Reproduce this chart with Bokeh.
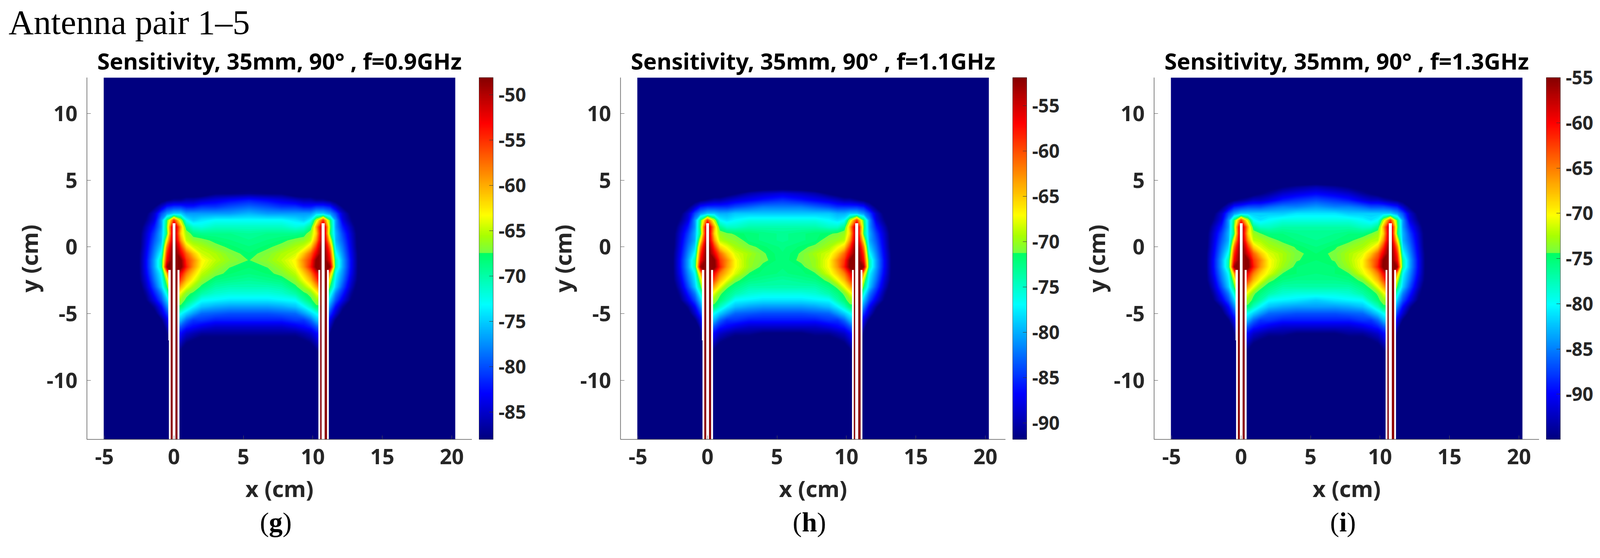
import numpy as np
from bokeh.core.properties import value
from bokeh.embed import file_html
from bokeh.resources import INLINE
from bokeh.layouts import column, row
from bokeh.models import FixedTicker, LinearColorMapper, Range1d
from bokeh.plotting import figure

# ---- data ----
TITLES = ["Sensitivity, 35mm, 90\u00b0 , f=0.9GHz", "Sensitivity, 35mm, 90\u00b0 , f=1.1GHz", "Sensitivity, 35mm, 90\u00b0 , f=1.3GHz"]
PANEL_TAGS = ["g", "h", "i"]
HEADING = "Antenna pair 1\u20135"
X_TICKS = [-5, 0, 5, 10, 15, 20]
Y_TICKS = [-10, -5, 0, 5, 10]
X_RANGE = [-6.26, 21.46]
Y_RANGE = [-14.42, 12.69]
IMAGE_X = [-5.05, 20.25]
CB_LOW = [-88.0, -91.8, -95.0]
CB_HIGH = [-48.1, -51.9, -55.0]
CB_TICKS = [
    [-85, -80, -75, -70, -65, -60, -55, -50],
    [-90, -85, -80, -75, -70, -65, -60, -55],
    [-90, -85, -80, -75, -70, -65, -60, -55],
]
# antenna stripes (cm)
WHITE_LEFT = [-0.40, -0.36, 0.26, -0.09, 10.40, 11.02, 10.63]
WHITE_RIGHT = [-0.23, -0.23, 0.40, 0.11, 10.53, 11.15, 10.85]
WHITE_TOP = [-1.72, -7.0, -1.72, 1.78, -1.72, -1.72, 1.78]
WHITE_BOTTOM = [-7.0, -14.42, -14.42, -14.42, -14.42, -14.42, -14.42]
RED_LEFT = [-0.23, 0.11, 10.53, 10.85]
RED_RIGHT = [-0.09, 0.26, 10.63, 11.02]
RED_TOP = [-1.72, -1.72, -1.72, -1.72]

XS = [-2.6, -2, -1.4, -0.9, -0.5, 0, 0.5, 0.9, 1.4, 2, 3, 4, 5.4, 6.75, 7.75, 8.75, 9.35, 9.85, 10.25, 10.75, 11.25, 11.65, 12.15, 12.75, 13.35]
YS = [5, 4.5, 4, 3.5, 3, 2.5, 2, 1.5, 1, 0.5, 0, -0.5, -1, -1.5, -2, -2.5, -3, -3.5, -4, -4.5, -5, -5.5, -6, -6.5, -7, -7.5, -8]

# attenuation in dB (value shown is the negative of these)
DB_G = [
[90,90,90,90,90,90,90,90,90,90,90,90,90,90,90,90,90,90,90,90,90,90,90,90,90],
[90,90,90,90,90,90,90,90,90,90,90,90,89,90,90,90,90,90,90,90,90,90,90,90,90],
[90,90,90,90,90,90,90,90,90,90,88,88,87.5,88,88,90,90,90,90,90,90,90,90,90,90],
[90,90,90,89,88,87,87,86,86,85,84,83,82,83,84,85,86,86,87,87,88,89,90,90,90],
[90,90,88,85,82,81,81,82,82,81,81,80,79,80,81,81,82,82,81,81,82,85,88,90,90],
[90,88.5,85,80,77,75,75,77,77,77,77,77,76,77,77,77,77,77,75,75,77,80,85,88.5,90],
[90,87.5,84,77,68,55,65,73,75,74,73,73,73,73,73,74,75,73,65,55,68,77,84,87.5,90],
[90,86,82,77,67,47,60,69,71.5,72,71,71,71,71,71,72,71.5,69,60,47,67,77,82,86,90],
[89.5,85,80.5,76,68,47,61.5,66,68.5,69,69,69,69.5,69,69,69,68.5,66,61.5,47,68,76,80.5,85,89.5],
[89.5,84.5,79.5,76,63,47,59,65,66.5,67,68,68.5,69,68.5,68,67,66.5,65,59,47,63,76,79.5,84.5,89.5],
[89.5,84,78.5,74.5,58,46,55,61.5,64.5,65.5,67,67.8,68.5,67.8,67,65.5,64.5,61.5,55,46,58,74.5,78.5,84,89.5],
[89,83.5,77.5,72.5,55,46,52,57,61,64.5,65.5,67,68,67,65.5,64.5,61,57,52,46,55,72.5,77.5,83.5,89],
[89,83,76.5,70,53,46,48,55,58.5,63,65,66.5,67.6,66.5,65,63,58.5,55,48,46,53,70,76.5,83,89],
[89,83,76.5,70,49,46,47.5,54,59,63.5,66,67.5,68,67.5,66,63.5,59,54,47.5,46,49,70,76.5,83,89],
[89,83.5,77.5,73,60,47,53,58,61.5,65,67,68,68.5,68,67,65,61.5,58,53,47,60,73,77.5,83.5,89],
[89,84.5,78.5,74,65,50,56,60.5,63.5,66.5,68.5,69,69.5,69,68.5,66.5,63.5,60.5,56,50,65,74,78.5,84.5,89],
[90,85.5,80,75,68,55,60,63.5,66,68,70,70.5,70.5,70.5,70,68,66,63.5,60,55,68,75,80,85.5,90],
[90,87,82,78,72,60,64,67,68,70,71.5,72,72,72,71.5,70,68,67,64,60,72,78,82,87,90],
[90,88,84,80,75,65,66.5,68,70,73,73.5,74,74,74,73.5,73,70,68,66.5,65,75,80,84,88,90],
[90,90,87,83,78,68,68,71,73.5,75.5,76.5,77,77,77,76.5,75.5,73.5,71,68,68,78,83,87,90,90],
[90,90,89,85,81,71,73,75,77,79,79.5,80,80,80,79.5,79,77,75,73,71,81,85,89,90,90],
[90,90,90,88,84,74,76,79,81,81,82,82,82,82,82,81,81,79,76,74,84,88,90,90,90],
[90,90,90,90,86,77,80,82,83,84,85,85,85,85,85,84,83,82,80,77,86,90,90,90,90],
[90,90,90,90,88,80,83,85,86,87,87,87,87,87,87,87,86,85,83,80,88,90,90,90,90],
[90,90,90,90,90,83,85,87,88,89,89,89,89,89,89,89,88,87,85,83,90,90,90,90,90],
[90,90,90,90,90,85,87,89,90,90,90,90,90,90,90,90,90,89,87,85,90,90,90,90,90],
[90,90,90,90,90,87,89,90,90,90,90,90,90,90,90,90,90,90,89,87,90,90,90,90,90],
]
DB_H = [
[95,95,95,95,95,95,95,95,95,95,95,95,95,95,95,95,95,95,95,95,95,95,95,95,95],
[95,95,95,95,95,95,95,95,95,95,95,94,94,94,95,95,95,95,95,95,95,95,95,95,95],
[95,95,95,95,95,95,94,94,93,92,90,89,88,89,90,92,93,94,94,95,95,95,95,95,95],
[95,95,94,93,92,91,90,90,89,88,87,86,85,86,87,88,89,90,90,91,92,93,94,95,95],
[95,95,92,89,86,85,85,85,85,84,83,82,82,82,83,84,85,85,85,85,86,89,92,95,95],
[94,92.5,89,84,81,79,79,80,80,79,79,79,79,79,79,79,80,80,79,79,81,84,89,92.5,94],
[94,91.5,88,81,72,59,69,77,78,77,76,76,76,76,76,77,78,77,69,59,72,81,88,91.5,94],
[94,90,86,81,71,51,64,73,75,75,74,74,74,74,74,75,75,73,64,51,71,81,86,90,94],
[93.5,89,84.5,80,72,51,65.5,70,71,71.6,72,72.5,73,72.5,72,71.6,71,70,65.5,51,72,80,84.5,89,93.5],
[93.5,88.5,83.5,80,67,51,63,69,70,70.5,72,72.5,73,72.5,72,70.5,70,69,63,51,67,80,83.5,88.5,93.5],
[93.5,88,82.5,78.5,62,50,59,65.5,67.5,69.5,71,71.7,72.5,71.7,71,69.5,67.5,65.5,59,50,62,78.5,82.5,88,93.5],
[93,87.5,81.5,76.5,59,50,56,61,65,68,69.5,71.2,72.3,71.2,69.5,68,65,61,56,50,59,76.5,81.5,87.5,93],
[93,87,80.5,74,57,50,52,59,62.5,67,70,71,72.3,71,70,67,62.5,59,52,50,57,74,80.5,87,93],
[93,87,80.5,74,53,50,51.5,58,63,67,70,71.8,72.3,71.8,70,67,63,58,51.5,50,53,74,80.5,87,93],
[93,87.5,81.5,77,64,51,57,62,65,68,71.5,72,72.5,72,71.5,68,65,62,57,51,64,77,81.5,87.5,93],
[93,88.5,82.5,78,69,54,60,64.5,67.5,70.8,72.5,73,73.5,73,72.5,70.8,67.5,64.5,60,54,69,78,82.5,88.5,93],
[94,89.5,84,79,72,59,64,67.5,71,72.5,74,74,74,74,74,72.5,71,67.5,64,59,72,79,84,89.5,94],
[94,91,86,82,76,64,68,71,72.5,74,75.5,76,76,76,75.5,74,72.5,71,68,64,76,82,86,91,94],
[94,92,88,84,79,69,70.5,72,74,77,77.5,78,78,78,77.5,77,74,72,70.5,69,79,84,88,92,94],
[95,95,91,87,82,72,72,75,77.5,79.5,80.5,81,81,81,80.5,79.5,77.5,75,72,72,82,87,91,95,95],
[95,95,93,89,85,75,77,79,81,83,83.5,84,84,84,83.5,83,81,79,77,75,85,89,93,95,95],
[95,95,95,92,88,78,80,83,85,85,86,86,86,86,86,85,85,83,80,78,88,92,95,95,95],
[95,95,95,95,90,81,84,86,87,88,89,89,89,89,89,88,87,86,84,81,90,95,95,95,95],
[95,95,95,95,92,84,87,89,90,91,91,92,92,92,91,91,90,89,87,84,92,95,95,95,95],
[95,95,95,95,94,87,89,91,92,93,93,94,94,94,93,93,92,91,89,87,94,95,95,95,95],
[95,95,95,95,95,89,91,93,95,95,95,95,95,95,95,95,95,93,91,89,95,95,95,95,95],
[95,95,95,95,95,91,93,95,95,95,95,95,95,95,95,95,95,95,93,91,95,95,95,95,95],
]
DB_I = [
[98,98,98,98,98,98,98,98,98,98,98,98,98,98,98,98,98,98,98,98,98,98,98,98,98],
[98,98,98,98,98,98,98,97,97,96,95,94,93,94,95,96,97,97,98,98,98,98,98,98,98],
[98,98,98,98,98,97,97,96,95,94,92,91,90,91,92,94,95,96,97,97,98,98,98,98,98],
[98,98,97,96,95,94,93,92,92,91,89,88,87,88,89,91,92,92,93,94,95,96,97,98,98],
[98,98,95,92,89,88,87,87,87,86,85,85,84,85,85,86,87,87,87,88,89,92,95,98,98],
[97,95.5,92,87,84,82,82,82,82,82,82,81,81,81,82,82,82,82,82,82,84,87,92,95.5,97],
[97,94.5,91,84,75,62,72,80,81,80,79,79,79,79,79,80,81,80,72,62,75,84,91,94.5,97],
[97,93,89,84,74,54,67,76,78,78,77,77,77,77,77,78,78,76,67,54,74,84,89,93,97],
[96.5,92,87.5,83,75,54,68.5,73,74.4,75.5,75.5,76,76,76,75.5,75.5,74.4,73,68.5,54,75,83,87.5,92,96.5],
[96.5,91.5,86.5,83,70,54,66,72,72.5,73.5,75,75.5,76,75.5,75,73.5,72.5,72,66,54,70,83,86.5,91.5,96.5],
[96.5,91,85.5,81.5,65,53,62,68.5,71,72.5,73.5,74.7,75.5,74.7,73.5,72.5,71,68.5,62,53,65,81.5,85.5,91,96.5],
[96,90.5,84.5,79.5,62,53,59,64,68,71,72.5,74.2,75,74.2,72.5,71,68,64,59,53,62,79.5,84.5,90.5,96],
[96,90,83.5,77,60,53,55,62,65.5,70,72.5,74.4,75,74.4,72.5,70,65.5,62,55,53,60,77,83.5,90,96],
[96,90,83.5,77,56,53,54.5,61,66,70,73,75,75.2,75,73,70,66,61,54.5,53,56,77,83.5,90,96],
[96,90.5,84.5,80,67,54,60,65,68.5,71,74.6,75,75.5,75,74.6,71,68.5,65,60,54,67,80,84.5,90.5,96],
[96,91.5,85.5,81,72,57,63,67.5,70.5,74,75.5,76,76,76,75.5,74,70.5,67.5,63,57,72,81,85.5,91.5,96],
[97,92.5,87,82,75,62,67,70.5,74,75.5,77,77,77,77,77,75.5,74,70.5,67,62,75,82,87,92.5,97],
[97,94,89,85,79,67,71,74.2,75.5,77,78.5,79,79,79,78.5,77,75.5,74.2,71,67,79,85,89,94,97],
[97,95,91,87,82,72,73.5,75,77,80,80.5,81,82,81,80.5,80,77,75,73.5,72,82,87,91,95,97],
[98,98,94,90,85,75,75,78,80.5,82.5,83.5,84,84,84,83.5,82.5,80.5,78,75,75,85,90,94,98,98],
[98,98,96,92,88,78,80,82,84,86,86.5,87,87,87,86.5,86,84,82,80,78,88,92,96,98,98],
[98,98,98,95,91,81,83,86,88,88,89,89,89,89,89,88,88,86,83,81,91,95,98,98,98],
[98,98,98,98,93,84,87,89,90,91,92,92,92,92,92,91,90,89,87,84,93,98,98,98,98],
[98,98,98,98,95,87,90,92,93,94,94,95,95,95,94,94,93,92,90,87,95,98,98,98,98],
[98,98,98,98,97,90,92,94,95,96,96,97,97,97,96,96,95,94,92,90,97,98,98,98,98],
[98,98,98,98,98,92,94,96,98,98,98,98,98,98,98,98,98,96,94,92,98,98,98,98,98],
[98,98,98,98,98,94,96,98,98,98,98,98,98,98,98,98,98,98,96,94,98,98,98,98,98],
]
FIELDS = [DB_G, DB_H, DB_I]

# ---- style ----
NAVY = "#000080"
DARK_RED = "#8f0000"
TEXT = "#262626"
SANS = "Noto Sans"
SERIF = "Liberation Serif"
TOTAL_W = 4084
TOP_H = 108
PANEL_H = 1187
FOOT_H = 96
FRAME_W = 986
FRAME_H = 929


def jet(pos):
    # the colour ramp of the picture: jet with a step in the green part
    pos = np.asarray(pos, dtype=float)
    r = np.interp(pos, [0.372, 0.5139, 0.514, 0.564, 0.62, 0.875, 1.0], [0, 0, 0.45, 0.667, 1, 1, 0.53])
    g = np.interp(pos, [0.125, 0.372, 0.62, 0.875], [0, 1, 1, 0])
    b = np.interp(pos, [0.0, 0.125, 0.372, 0.5139, 0.514, 0.564], [0.5, 1, 1, 0.39, 0.27, 0])
    return ["#%02x%02x%02x" % (int(a * 255), int(c * 255), int(d * 255)) for a, c, d in zip(r, g, b)]


JET256 = jet(np.linspace(0, 1, 256))


def panel(i, left_border):
    low, high = CB_LOW[i], CB_HIGH[i]
    p = figure(output_backend="svg", toolbar_location=None,
               width=left_border + FRAME_W, height=PANEL_H,
               x_range=Range1d(*X_RANGE), y_range=Range1d(*Y_RANGE),
               min_border_left=left_border, min_border_right=0,
               min_border_top=90, min_border_bottom=PANEL_H - 90 - FRAME_H,
               outline_line_color=None, background_fill_color="white",
               title=TITLES[i])
    p.title.text_font = SANS
    p.title.text_font_style = "bold"
    p.title.text_font_size = "58px"
    p.title.text_color = "#000000"
    p.title.align = "center"
    p.title.standoff = 8
    p.xgrid.visible = False
    p.ygrid.visible = False
    p.quad(left=[IMAGE_X[0]], right=[IMAGE_X[1]], bottom=[Y_RANGE[0]], top=[Y_RANGE[1]],
           fill_color=NAVY, line_color=None)
    levels = np.linspace(low, high, 81)[:-1]
    colors = jet((np.arange(80) + 0.5) / 80)
    xs = np.array(XS, dtype=float)
    ys = np.array(YS, dtype=float)[::-1]
    z = -np.array(FIELDS[i], dtype=float)[::-1]
    # nested fills, painted from the floor upwards
    for level, colour in zip(levels, colors):
        p.contour(xs, ys, z, [float(level), -20.0], fill_color=[colour], line_color=None)
    p.quad(left=RED_LEFT, right=RED_RIGHT, top=RED_TOP, bottom=[Y_RANGE[0]] * 4,
           fill_color=DARK_RED, line_color=None)
    p.quad(left=WHITE_LEFT, right=WHITE_RIGHT, top=WHITE_TOP, bottom=WHITE_BOTTOM,
           fill_color="white", line_color=None)
    for ax, ticks, label, stand in ((p.xaxis, X_TICKS, "x (cm)", 19), (p.yaxis, Y_TICKS, "y (cm)", 2)):
        ax.ticker = FixedTicker(ticks=ticks)
        ax.major_label_overrides = {t: str(t) for t in ticks}
        ax.axis_label = label
        ax.axis_label_text_font = SANS
        ax.axis_label_text_font_style = "bold"
        ax.axis_label_text_font_size = "58px"
        ax.axis_label_text_color = TEXT
        ax.major_label_text_font = SANS
        ax.major_label_text_font_style = "bold"
        ax.major_label_text_font_size = "54px"
        ax.major_label_text_color = TEXT
        ax.major_tick_in = 10
        ax.major_tick_out = 0
        ax.minor_tick_line_color = None
        ax.axis_line_color = "#555555"
        ax.axis_line_width = 1.5
        ax.major_tick_line_color = "#555555"
        ax.major_label_standoff = 24
        ax.axis_label_standoff = stand
    return p


def colorbar(i, right_border=110):
    low, high = CB_LOW[i], CB_HIGH[i]
    c = figure(output_backend="svg", toolbar_location=None,
               width=18 + 36 + right_border, height=PANEL_H,
               x_range=Range1d(0, 1), y_range=Range1d(low, high),
               min_border_left=18, min_border_right=right_border,
               min_border_top=87, min_border_bottom=PANEL_H - 87 - FRAME_H,
               y_axis_location="right", outline_line_color="#333333")
    c.xaxis.visible = False
    c.xgrid.visible = False
    c.ygrid.visible = False
    mapper = LinearColorMapper(palette=JET256, low=low, high=high)
    c.image(image=[np.linspace(low, high, 256).reshape(256, 1)], x=0, y=low, dw=1, dh=high - low,
            color_mapper=mapper)
    ax = c.yaxis
    ax.ticker = FixedTicker(ticks=CB_TICKS[i])
    ax.major_label_overrides = {t: str(t) for t in CB_TICKS[i]}
    ax.major_label_text_font = SANS
    ax.major_label_text_font_style = "bold"
    ax.major_label_text_font_size = "48px"
    ax.major_label_text_color = TEXT
    ax.major_tick_in = 10
    ax.major_tick_out = 0
    ax.minor_tick_line_color = None
    ax.axis_line_color = "#333333"
    ax.major_tick_line_color = "#333333"
    ax.major_label_standoff = 14
    return c


def blank(height):
    f = figure(output_backend="svg", toolbar_location=None, width=TOTAL_W, height=height,
               x_range=Range1d(0, TOTAL_W), y_range=Range1d(0, height),
               x_axis_location=None, y_axis_location=None, outline_line_color=None,
               min_border=0)
    f.xgrid.visible = False
    f.ygrid.visible = False
    return f


top = blank(TOP_H)
top.text(x=[21.5], y=[52], text=[HEADING], text_font=value(SERIF), text_font_size="89px",
         text_color="#000000", text_align="left", text_baseline="middle")

foot = blank(FOOT_H)
tag_x = [705.5, 2071.6, 3437.6]
tag_half = [17.5, 19.5, 9.7]
foot.text(x=[a - b for a, b in zip(tag_x, tag_half)], y=[55] * 3, text=["("] * 3, text_font=value(SERIF),
          text_font_size="70px", text_color="#000000", text_align="right", text_baseline="middle")
foot.text(x=tag_x, y=[55] * 3, text=PANEL_TAGS, text_font=value(SERIF), text_font_style="bold",
          text_font_size="70px", text_color="#000000", text_align="center", text_baseline="middle")
foot.text(x=[a + b for a, b in zip(tag_x, tag_half)], y=[55] * 3, text=[")"] * 3, text_font=value(SERIF),
          text_font_size="70px", text_color="#000000", text_align="left", text_baseline="middle")

panels = row(panel(0, 222), colorbar(0), panel(1, 216), colorbar(1), panel(2, 216), colorbar(2, 90), spacing=0)
layout = column(top, panels, foot, spacing=0)
open("out.html", "w").write(file_html(layout, INLINE))
